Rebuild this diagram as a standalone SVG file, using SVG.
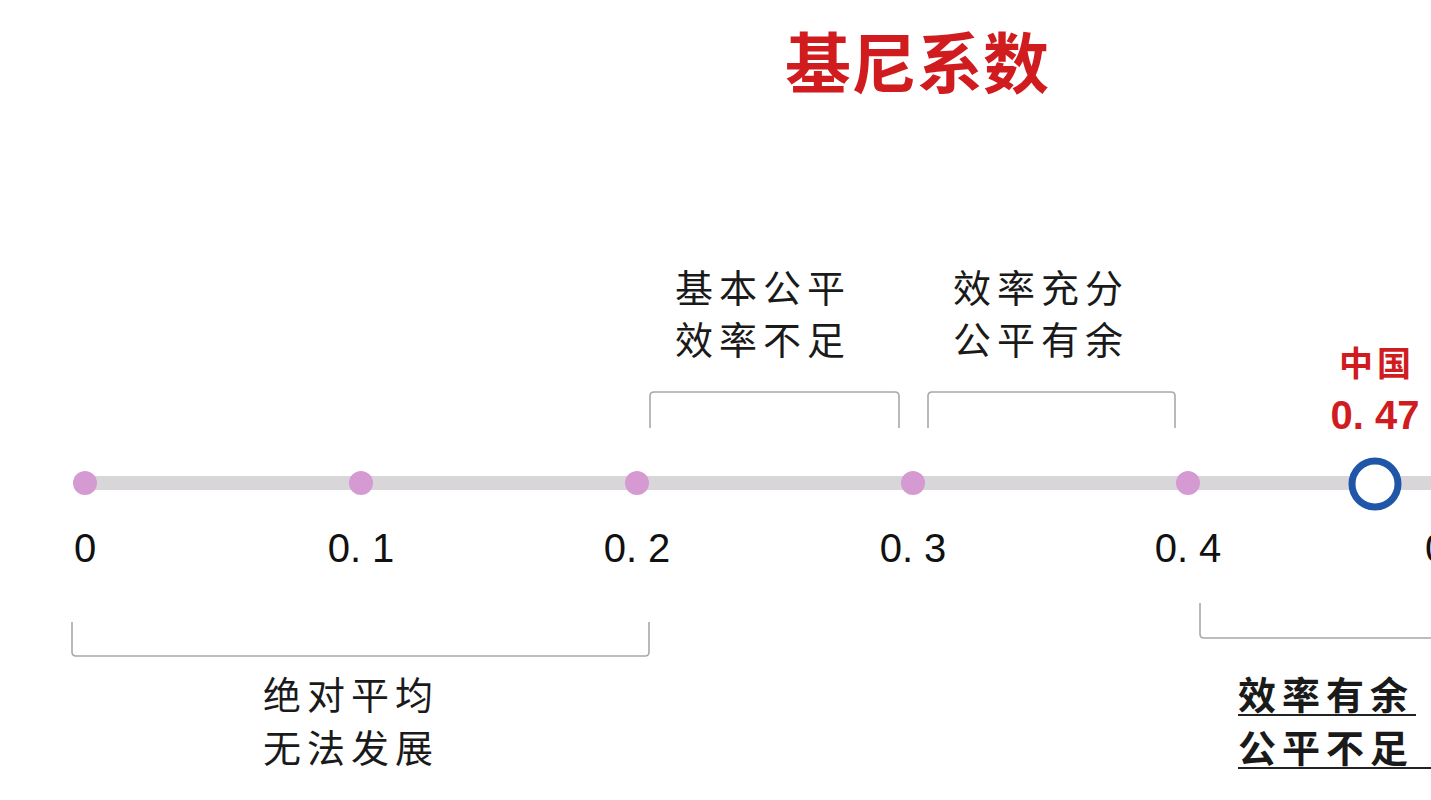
<svg xmlns="http://www.w3.org/2000/svg" width="1431" height="800" viewBox="0 0 1431 800">
<style>
.t{font-family:"Noto Sans CJK SC","Noto Sans",sans-serif;}
.lab{font-family:"Noto Sans CJK SC","Noto Sans CJK SC",sans-serif;font-size:38px;fill:#1a1a1a;letter-spacing:6px;}
.num{font-family:"Liberation Sans",Arial,sans-serif;font-size:40px;fill:#111;text-anchor:middle;}
.dot{fill:#d69ad2;}
.br{fill:none;stroke:#a8a8a8;stroke-width:1.6;}
.red{fill:#d01c1f;font-weight:bold;}
</style>
<rect width="1431" height="800" fill="#ffffff"/>
<g id="title"><text class="t red" x="917" y="88" font-size="66" text-anchor="middle">基尼系数</text></g>
<g id="connectors">
<line x1="85" y1="483" x2="1431" y2="483" stroke="#d9d6d9" stroke-width="14"/>
<path class="br" d="M650 428 V396 Q650 392 654 392 H895 Q899 392 899 396 V428"/>
<path class="br" d="M928 428 V396 Q928 392 932 392 H1171 Q1175 392 1175 396 V428"/>
<path class="br" d="M72 622 V652 Q72 656 76 656 H645 Q649 656 649 652 V622"/>
<path class="br" d="M1200 603 V634 Q1200 638 1204 638 H1431"/>
</g>
<g id="p0"><circle class="dot" cx="85" cy="483" r="12"/><text class="num" x="85" y="562">0</text></g>
<g id="p1"><circle class="dot" cx="361" cy="483" r="12"/><text class="num" x="361" y="562">0. 1</text></g>
<g id="p2"><circle class="dot" cx="637" cy="483" r="12"/><text class="num" x="637" y="562">0. 2</text></g>
<g id="p3"><circle class="dot" cx="913" cy="483" r="12"/><text class="num" x="913" y="562">0. 3</text></g>
<g id="p4"><circle class="dot" cx="1188" cy="483" r="12"/><text class="num" x="1188" y="562">0. 4</text></g>
<g id="p5"><text class="num" x="1425" y="562" text-anchor="start" style="text-anchor:start">0. 5</text></g>
<g id="china">
<circle cx="1375" cy="484" r="23" fill="#ffffff" stroke="#1f56a8" stroke-width="7"/>
<text class="t red" x="1377" y="376" font-size="34" text-anchor="middle" letter-spacing="4">中国</text>
<text class="red" x="1375" y="429" font-size="40" text-anchor="middle" font-family="Liberation Sans, Arial, sans-serif">0. 47</text>
</g>
<g id="lab-a"><text class="lab" x="675" y="302">基本公平</text><text class="lab" x="675" y="354">效率不足</text></g>
<g id="lab-b"><text class="lab" x="953" y="302">效率充分</text><text class="lab" x="953" y="354">公平有余</text></g>
<g id="lab-c"><text class="lab" x="263" y="709">绝对平均</text><text class="lab" x="263" y="762">无法发展</text></g>
<g id="lab-d">
<text class="lab" x="1238" y="709" font-weight="bold">效率有余</text>
<line x1="1238" y1="715" x2="1416" y2="715" stroke="#222" stroke-width="2"/>
<text class="lab" x="1238" y="762" font-weight="bold">公平不足</text>
<line x1="1238" y1="768" x2="1431" y2="768" stroke="#222" stroke-width="2"/>
</g>
</svg>
